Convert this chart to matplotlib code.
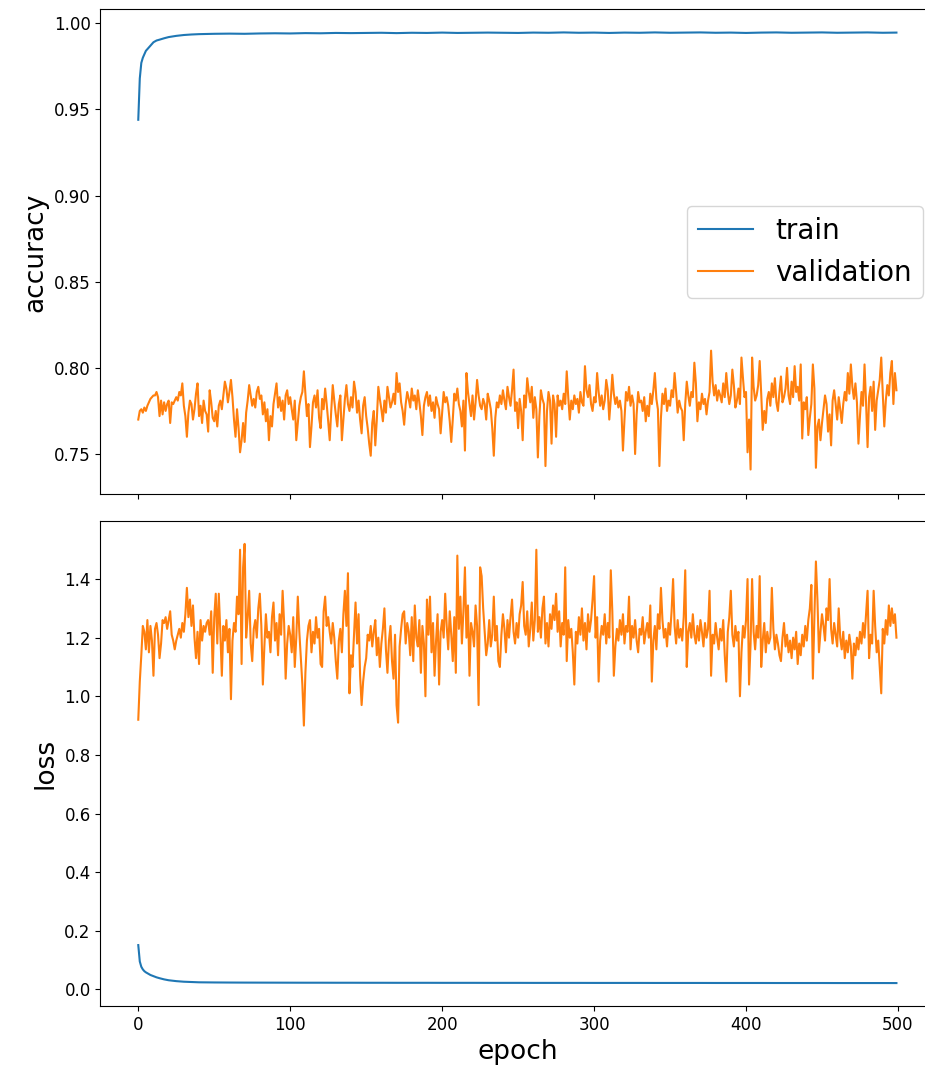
import numpy as np
import matplotlib
matplotlib.use("Agg")
import matplotlib.pyplot as plt

# validation accuracy, one value per epoch (0..499)
val_acc = [
    0.770, 0.775, 0.776, 0.774, 0.777, 0.775, 0.778, 0.780, 0.782, 0.783, 0.784, 0.784, 0.786, 0.783, 0.772, 0.781, 0.773, 0.780, 0.775, 0.779, 0.781, 0.768, 0.780, 0.779, 0.781,
    0.783, 0.781, 0.786, 0.784, 0.791, 0.778, 0.772, 0.760, 0.774, 0.781, 0.779, 0.770, 0.776, 0.785, 0.791, 0.772, 0.778, 0.768, 0.781, 0.775, 0.773, 0.763, 0.787, 0.780, 0.771,
    0.769, 0.775, 0.766, 0.778, 0.781, 0.776, 0.784, 0.792, 0.788, 0.780, 0.786, 0.793, 0.783, 0.770, 0.760, 0.776, 0.765, 0.751, 0.758, 0.768, 0.757, 0.774, 0.781, 0.790, 0.784,
    0.778, 0.782, 0.777, 0.786, 0.789, 0.782, 0.784, 0.773, 0.780, 0.769, 0.776, 0.758, 0.772, 0.766, 0.779, 0.785, 0.791, 0.777, 0.783, 0.775, 0.781, 0.770, 0.784, 0.787, 0.779,
    0.783, 0.776, 0.770, 0.781, 0.758, 0.768, 0.778, 0.783, 0.786, 0.798, 0.785, 0.772, 0.779, 0.754, 0.766, 0.780, 0.784, 0.777, 0.787, 0.771, 0.765, 0.782, 0.776, 0.788, 0.779,
    0.769, 0.758, 0.775, 0.790, 0.781, 0.773, 0.766, 0.779, 0.784, 0.758, 0.770, 0.782, 0.790, 0.779, 0.775, 0.783, 0.777, 0.792, 0.786, 0.774, 0.781, 0.770, 0.762, 0.778, 0.783,
    0.772, 0.765, 0.756, 0.749, 0.768, 0.775, 0.755, 0.770, 0.789, 0.782, 0.776, 0.769, 0.781, 0.774, 0.789, 0.783, 0.777, 0.780, 0.785, 0.779, 0.797, 0.786, 0.791, 0.780, 0.775,
    0.767, 0.779, 0.786, 0.782, 0.777, 0.788, 0.781, 0.784, 0.776, 0.787, 0.780, 0.772, 0.761, 0.778, 0.783, 0.786, 0.778, 0.784, 0.775, 0.780, 0.771, 0.783, 0.779, 0.776, 0.762,
    0.774, 0.786, 0.780, 0.783, 0.778, 0.769, 0.757, 0.770, 0.785, 0.781, 0.788, 0.779, 0.775, 0.766, 0.781, 0.752, 0.797, 0.786, 0.779, 0.772, 0.784, 0.770, 0.780, 0.793, 0.784,
    0.778, 0.776, 0.782, 0.779, 0.770, 0.785, 0.781, 0.776, 0.765, 0.749, 0.771, 0.780, 0.777, 0.784, 0.779, 0.787, 0.781, 0.776, 0.789, 0.783, 0.778, 0.787, 0.799, 0.775, 0.780,
    0.765, 0.782, 0.775, 0.758, 0.784, 0.777, 0.794, 0.786, 0.780, 0.789, 0.771, 0.783, 0.776, 0.748, 0.772, 0.787, 0.782, 0.779, 0.743, 0.775, 0.786, 0.781, 0.756, 0.784, 0.779,
    0.760, 0.784, 0.778, 0.781, 0.776, 0.785, 0.779, 0.798, 0.783, 0.770, 0.781, 0.776, 0.784, 0.779, 0.782, 0.774, 0.786, 0.780, 0.778, 0.801, 0.787, 0.783, 0.790, 0.779, 0.775,
    0.783, 0.780, 0.797, 0.786, 0.778, 0.784, 0.776, 0.781, 0.793, 0.787, 0.770, 0.782, 0.796, 0.785, 0.779, 0.783, 0.777, 0.781, 0.775, 0.752, 0.770, 0.786, 0.781, 0.789, 0.778,
    0.784, 0.779, 0.750, 0.773, 0.786, 0.780, 0.781, 0.775, 0.783, 0.769, 0.778, 0.772, 0.785, 0.779, 0.787, 0.797, 0.782, 0.776, 0.743, 0.771, 0.785, 0.779, 0.788, 0.775, 0.781,
    0.778, 0.787, 0.783, 0.797, 0.786, 0.774, 0.781, 0.777, 0.775, 0.758, 0.779, 0.792, 0.784, 0.778, 0.786, 0.783, 0.803, 0.791, 0.769, 0.780, 0.776, 0.785, 0.779, 0.782, 0.773,
    0.781, 0.786, 0.810, 0.792, 0.784, 0.790, 0.781, 0.787, 0.784, 0.780, 0.791, 0.783, 0.797, 0.786, 0.779, 0.784, 0.799, 0.790, 0.777, 0.781, 0.788, 0.779, 0.806, 0.794, 0.783,
    0.786, 0.751, 0.770, 0.741, 0.806, 0.789, 0.781, 0.784, 0.790, 0.804, 0.785, 0.764, 0.775, 0.768, 0.782, 0.786, 0.778, 0.791, 0.783, 0.794, 0.780, 0.775, 0.786, 0.795, 0.780,
    0.783, 0.788, 0.800, 0.784, 0.779, 0.792, 0.783, 0.801, 0.786, 0.789, 0.781, 0.802, 0.759, 0.780, 0.776, 0.783, 0.761, 0.771, 0.779, 0.802, 0.788, 0.742, 0.766, 0.770, 0.758,
    0.768, 0.776, 0.784, 0.779, 0.763, 0.773, 0.755, 0.781, 0.787, 0.779, 0.770, 0.783, 0.776, 0.768, 0.779, 0.786, 0.781, 0.797, 0.785, 0.802, 0.789, 0.782, 0.791, 0.780, 0.756,
    0.772, 0.786, 0.778, 0.802, 0.780, 0.754, 0.783, 0.789, 0.775, 0.792, 0.764, 0.781, 0.787, 0.793, 0.806, 0.785, 0.766, 0.781, 0.790, 0.784, 0.797, 0.804, 0.779, 0.797, 0.787,
]

# validation loss, one value per epoch (0..499)
val_loss = [
    0.92, 1.05, 1.14, 1.24, 1.22, 1.16, 1.26, 1.15, 1.24, 1.19, 1.07, 1.23, 1.25, 1.21, 1.13, 1.18, 1.26, 1.25, 1.27, 1.23, 1.26, 1.29, 1.21, 1.19, 1.16,
    1.19, 1.21, 1.23, 1.20, 1.25, 1.22, 1.28, 1.37, 1.27, 1.33, 1.24, 1.31, 1.20, 1.13, 1.22, 1.11, 1.26, 1.19, 1.24, 1.22, 1.25, 1.26, 1.21, 1.29, 1.08,
    1.27, 1.35, 1.18, 1.35, 1.22, 1.07, 1.24, 1.19, 1.26, 1.15, 1.23, 0.99, 1.19, 1.25, 1.22, 1.34, 1.28, 1.50, 1.11, 1.44, 1.52, 1.20, 1.27, 1.36, 1.18,
    1.12, 1.23, 1.26, 1.20, 1.30, 1.35, 1.24, 1.04, 1.17, 1.28, 1.20, 1.22, 1.15, 1.27, 1.32, 1.19, 1.25, 1.14, 1.28, 1.21, 1.36, 1.25, 1.06, 1.18, 1.24,
    1.21, 1.15, 1.27, 1.10, 1.20, 1.34, 1.22, 1.13, 1.04, 0.90, 1.08, 1.19, 1.24, 1.26, 1.15, 1.22, 1.18, 1.27, 1.20, 1.23, 1.11, 1.10, 1.29, 1.34, 1.24,
    1.27, 1.22, 1.18, 1.25, 1.20, 1.12, 1.06, 1.19, 1.23, 1.15, 1.28, 1.36, 1.24, 1.42, 1.01, 1.14, 1.10, 1.21, 1.32, 1.18, 1.28, 1.07, 0.97, 1.05, 1.10,
    1.13, 1.21, 1.19, 1.24, 1.17, 1.22, 1.26, 1.14, 1.20, 1.10, 1.18, 1.23, 1.30, 1.16, 1.08, 1.19, 1.24, 1.12, 1.06, 1.21, 0.97, 0.91, 1.17, 1.23, 1.28,
    1.29, 1.18, 1.25, 1.22, 1.14, 1.27, 1.12, 1.31, 1.20, 1.17, 1.26, 1.08, 1.24, 1.18, 1.00, 1.33, 1.21, 1.34, 1.15, 1.25, 1.07, 1.19, 1.28, 1.04, 1.22,
    1.26, 1.20, 1.35, 1.24, 1.16, 1.29, 1.21, 1.12, 1.27, 1.08, 1.48, 1.23, 1.34, 1.18, 1.29, 1.44, 1.20, 1.31, 1.07, 1.25, 1.22, 1.17, 1.31, 1.24, 0.97,
    1.44, 1.41, 1.30, 1.22, 1.14, 1.18, 1.26, 1.17, 1.21, 1.34, 1.19, 1.24, 1.12, 1.10, 1.21, 1.28, 1.23, 1.15, 1.26, 1.20, 1.27, 1.33, 1.22, 1.18, 1.25,
    1.20, 1.28, 1.31, 1.39, 1.24, 1.21, 1.29, 1.17, 1.23, 1.32, 1.19, 1.26, 1.50, 1.22, 1.27, 1.20, 1.30, 1.34, 1.18, 1.25, 1.17, 1.28, 1.23, 1.31, 1.26,
    1.35, 1.22, 1.29, 1.17, 1.25, 1.21, 1.44, 1.12, 1.26, 1.20, 1.23, 1.15, 1.04, 1.22, 1.18, 1.27, 1.21, 1.30, 1.19, 1.25, 1.16, 1.28, 1.22, 1.26, 1.33,
    1.41, 1.20, 1.27, 1.05, 1.19, 1.24, 1.21, 1.28, 1.18, 1.25, 1.20, 1.43, 1.29, 1.07, 1.17, 1.23, 1.19, 1.26, 1.21, 1.28, 1.18, 1.24, 1.22, 1.34, 1.16,
    1.24, 1.20, 1.26, 1.19, 1.15, 1.23, 1.21, 1.27, 1.18, 1.22, 1.25, 1.20, 1.31, 1.05, 1.19, 1.24, 1.16, 1.28, 1.23, 1.37, 1.26, 1.20, 1.23, 1.17, 1.25,
    1.21, 1.29, 1.40, 1.24, 1.18, 1.26, 1.20, 1.23, 1.19, 1.27, 1.43, 1.10, 1.22, 1.25, 1.20, 1.28, 1.21, 1.18, 1.24, 1.19, 1.26, 1.22, 1.17, 1.25, 1.20,
    1.23, 1.36, 1.07, 1.21, 1.18, 1.25, 1.20, 1.16, 1.23, 1.19, 1.26, 1.14, 1.05, 1.22, 1.27, 1.36, 1.21, 1.17, 1.24, 1.19, 1.22, 1.00, 1.15, 1.24, 1.20,
    1.26, 1.40, 1.04, 1.18, 1.40, 1.22, 1.16, 1.24, 1.20, 1.41, 1.10, 1.19, 1.25, 1.15, 1.22, 1.18, 1.20, 1.37, 1.23, 1.16, 1.21, 1.18, 1.14, 1.12, 1.20,
    1.25, 1.17, 1.21, 1.15, 1.19, 1.13, 1.20, 1.16, 1.22, 1.11, 1.18, 1.14, 1.21, 1.17, 1.24, 1.19, 1.26, 1.30, 1.38, 1.06, 1.27, 1.46, 1.33, 1.15, 1.22,
    1.28, 1.24, 1.19, 1.30, 1.26, 1.40, 1.23, 1.18, 1.25, 1.21, 1.17, 1.30, 1.20, 1.16, 1.22, 1.13, 1.19, 1.15, 1.21, 1.17, 1.06, 1.18, 1.14, 1.20, 1.16,
    1.22, 1.18, 1.25, 1.20, 1.28, 1.36, 1.13, 1.21, 1.18, 1.36, 1.24, 1.15, 1.19, 1.10, 1.01, 1.23, 1.18, 1.26, 1.21, 1.31, 1.24, 1.30, 1.25, 1.28, 1.20,
]

# training curves are smooth, so they are read at fewer epochs
train_epochs = [0, 1, 2, 3, 4, 5, 6, 8, 10, 12, 14, 17, 20, 25, 30, 35, 40,
                50, 60, 70, 80, 90, 100, 110, 120, 130, 140, 150, 160, 170, 180, 190,
                200, 210, 220, 230, 240, 250, 260, 270, 280, 290, 300, 310, 320, 330,
                340, 350, 360, 370, 380, 390, 400, 410, 420, 430, 440, 450, 460, 470,
                480, 490, 499]
train_acc = [0.944, 0.968, 0.977, 0.980, 0.982, 0.984, 0.985, 0.987, 0.989, 0.990, 0.9905, 0.9913, 0.992, 0.9927, 0.9932, 0.9935, 0.9937,
             0.9939, 0.9940, 0.9939, 0.9941, 0.9942, 0.9941, 0.9943, 0.9942, 0.9944, 0.9943, 0.9944, 0.9945, 0.9943, 0.9945, 0.9944,
             0.9946, 0.9944, 0.9945, 0.9946, 0.9945, 0.9944, 0.9946, 0.9945, 0.9947, 0.9945, 0.9946, 0.9944, 0.9946, 0.9945,
             0.9947, 0.9945, 0.9946, 0.9947, 0.9945, 0.9946, 0.9944, 0.9946, 0.9947, 0.9945, 0.9946, 0.9947, 0.9945, 0.9946,
             0.9947, 0.9945, 0.9946]
train_loss = [0.151, 0.095, 0.077, 0.068, 0.062, 0.058, 0.055, 0.049, 0.045, 0.041, 0.038, 0.034, 0.031, 0.028, 0.026, 0.025, 0.024,
              0.0235, 0.0232, 0.0230, 0.0229, 0.0228, 0.0227, 0.0226, 0.0226, 0.0225, 0.0225, 0.0224, 0.0224, 0.0223, 0.0223, 0.0223,
              0.0222, 0.0222, 0.0222, 0.0221, 0.0221, 0.0221, 0.0220, 0.0220, 0.0220, 0.0220, 0.0219, 0.0219, 0.0219, 0.0219,
              0.0218, 0.0218, 0.0218, 0.0218, 0.0217, 0.0217, 0.0217, 0.0217, 0.0216, 0.0216, 0.0216, 0.0216, 0.0215, 0.0215,
              0.0215, 0.0215, 0.0214]

epochs = np.arange(len(val_acc))

fig = plt.figure(figsize=(9.25, 10.73), dpi=100)
# the source picture is cropped on the right, so the axes run past the figure edge
ax1 = fig.add_axes([0.1085, 0.5393, 0.9016, 0.452])
ax2 = fig.add_axes([0.1085, 0.0624, 0.9016, 0.4523], sharex=ax1)

ax1.plot(train_epochs, train_acc, color='tab:blue', lw=1.5, label='train')
ax1.plot(epochs, val_acc, color='tab:orange', lw=1.5, label='validation')
ax1.set_ylim(0.7266, 1.0081)
ax1.set_yticks([0.75, 0.80, 0.85, 0.90, 0.95, 1.00])
ax1.set_ylabel('accuracy', fontsize=19)
ax1.legend(loc='center right', fontsize=20, borderaxespad=0.4)
ax1.tick_params(labelbottom=False, labelsize=12)

ax2.plot(train_epochs, train_loss, color='tab:blue', lw=1.5)
ax2.plot(epochs, val_loss, color='tab:orange', lw=1.5)
ax2.set_ylim(-0.057, 1.599)
ax2.set_yticks([0.0, 0.2, 0.4, 0.6, 0.8, 1.0, 1.2, 1.4])
ax2.set_ylabel('loss', fontsize=19)
ax2.set_xlabel('epoch', fontsize=19)
ax2.tick_params(labelsize=12)

ax2.set_xlim(-24.95, 523.95)
ax2.set_xticks([0, 100, 200, 300, 400, 500])

fig.savefig('out.png', dpi=100)
